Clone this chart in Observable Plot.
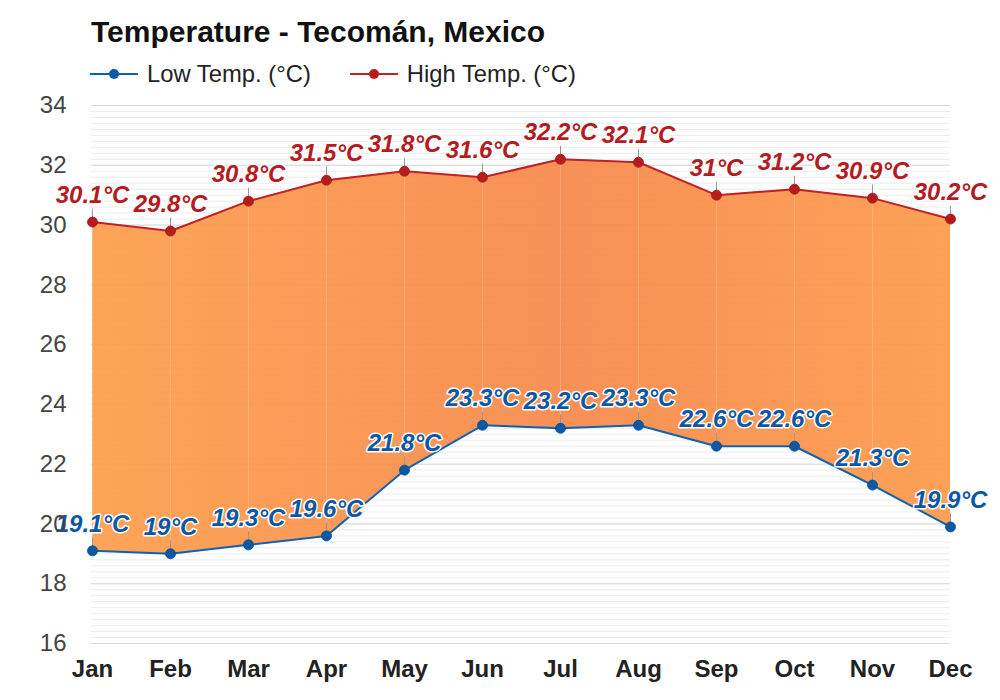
<!DOCTYPE html>
<html><head><meta charset="utf-8">
<script src="https://cdn.jsdelivr.net/npm/d3@7"></script>
<script src="https://cdn.jsdelivr.net/npm/@observablehq/plot@0.6"></script>
<style>
body{margin:0;background:#fff;font-family:"Liberation Sans",Arial,sans-serif;}
#wrap{position:relative;width:1000px;height:700px;overflow:hidden;}
#title{position:absolute;left:91px;top:15px;font-size:30px;font-weight:bold;color:#111;line-height:34px;white-space:nowrap;}
#legend{position:absolute;left:90px;top:60px;display:flex;gap:39px;font-size:23.8px;color:#222;line-height:28px;}
.item{display:flex;align-items:center;gap:9px;white-space:nowrap;}
#chart{position:absolute;left:0;top:90px;}
</style></head><body>
<div id="wrap">
  <div id="title">Temperature - Tecomán, Mexico</div>
  <div id="legend"></div>
  <div id="chart"></div>
</div>
<script>
const months = ["Jan","Feb","Mar","Apr","May","Jun","Jul","Aug","Sep","Oct","Nov","Dec"];
const lowTemps = [19.1, 19, 19.3, 19.6, 21.8, 23.3, 23.2, 23.3, 22.6, 22.6, 21.3, 19.9];
const highTemps = [30.1, 29.8, 30.8, 31.5, 31.8, 31.6, 32.2, 32.1, 31, 31.2, 30.9, 30.2];
const yTicks = [16, 18, 20, 22, 24, 26, 28, 30, 32, 34];
const minorTicks = d3.range(80, 171).map(i => i / 5);
const seriesNames = ["Low Temp. (°C)", "High Temp. (°C)"];
const lineColors = ["#1160ae", "#c22026"];
const dotColors = ["#0b58a6", "#b71c1c"];
const labelColors = ["#0b57a4", "#b51b1f"];

const data = months.map((m, i) => ({month: m, low: lowTemps[i], high: highTemps[i]}));

// legend
const legend = document.getElementById("legend");
seriesNames.forEach((name, i) => {
  const it = document.createElement("div");
  it.className = "item";
  it.innerHTML = `<svg width="48" height="14"><line x1="0" x2="48" y1="7" y2="7" stroke="${lineColors[i]}" stroke-width="2"/><circle cx="24" cy="7" r="5" fill="${dotColors[i]}"/></svg><span>${name}</span>`;
  legend.appendChild(it);
});

const font = "Liberation Sans, Arial, sans-serif";
const chart = Plot.plot({
  width: 1000, height: 598,
  marginTop: 15, marginBottom: 45, marginLeft: 91, marginRight: 50,
  style: {fontFamily: font, background: "transparent", overflow: "visible"},
  x: {type: "point", domain: months, padding: 0, label: null},
  y: {domain: [16, 34], label: null},
  marks: [
    Plot.ruleY(minorTicks, {stroke: "#ececec", strokeWidth: 1}),
    Plot.ruleY(yTicks, {stroke: "#d9d9d9", strokeWidth: 1}),
    Plot.areaY(data, {x: "month", y1: "low", y2: "high", fill: "url(#tempGrad)", fillOpacity: 0.93}),
    Plot.ruleX(data, {x: "month", y1: "low", y2: "high", stroke: "#fff", strokeOpacity: 0.2}),
    Plot.ruleX(data, {x: "month", y1: "high", y2: "high", insetBottom: 13, stroke: "#999"}),
    Plot.ruleX(data, {x: "month", y1: "low", y2: "low", insetBottom: 13, stroke: "#999"}),
    Plot.line(data, {x: "month", y: "high", stroke: lineColors[1], strokeWidth: 2}),
    Plot.line(data, {x: "month", y: "low", stroke: lineColors[0], strokeWidth: 2}),
    Plot.dot(data, {x: "month", y: "high", r: 5, fill: dotColors[1], stroke: "#a01818", strokeWidth: 0.8}),
    Plot.dot(data, {x: "month", y: "low", r: 5, fill: dotColors[0], stroke: "#084a8c", strokeWidth: 0.8}),
    Plot.text(data, {x: "month", y: "high", text: d => d.high + "°C", dy: -27, fill: labelColors[1], stroke: "white", strokeWidth: 3, fontSize: 24, fontWeight: "bold", fontStyle: "italic"}),
    Plot.text(data, {x: "month", y: "low", text: d => d.low + "°C", dy: -27, fill: labelColors[0], stroke: "white", strokeWidth: 3, fontSize: 24, fontWeight: "bold", fontStyle: "italic"}),
    Plot.axisY(yTicks, {tickSize: 0, tickPadding: 25, fontSize: 24, fill: "#444", label: null}),
    Plot.axisX({tickSize: 0, tickPadding: 16, fontSize: 24, fontWeight: "bold", fill: "#222", label: null})
  ]
});

const defs = d3.select(chart).insert("defs", ":first-child");
const grad = defs.append("linearGradient").attr("id", "tempGrad")
  .attr("gradientUnits", "userSpaceOnUse").attr("x1", 91).attr("x2", 950).attr("y1", 0).attr("y2", 0);
grad.append("stop").attr("offset", "0").attr("stop-color", "#fd9e4b");
grad.append("stop").attr("offset", "0.55").attr("stop-color", "#f7884a");
grad.append("stop").attr("offset", "1").attr("stop-color", "#fc9a4a");

document.getElementById("chart").appendChild(chart);
</script>
</body></html>
